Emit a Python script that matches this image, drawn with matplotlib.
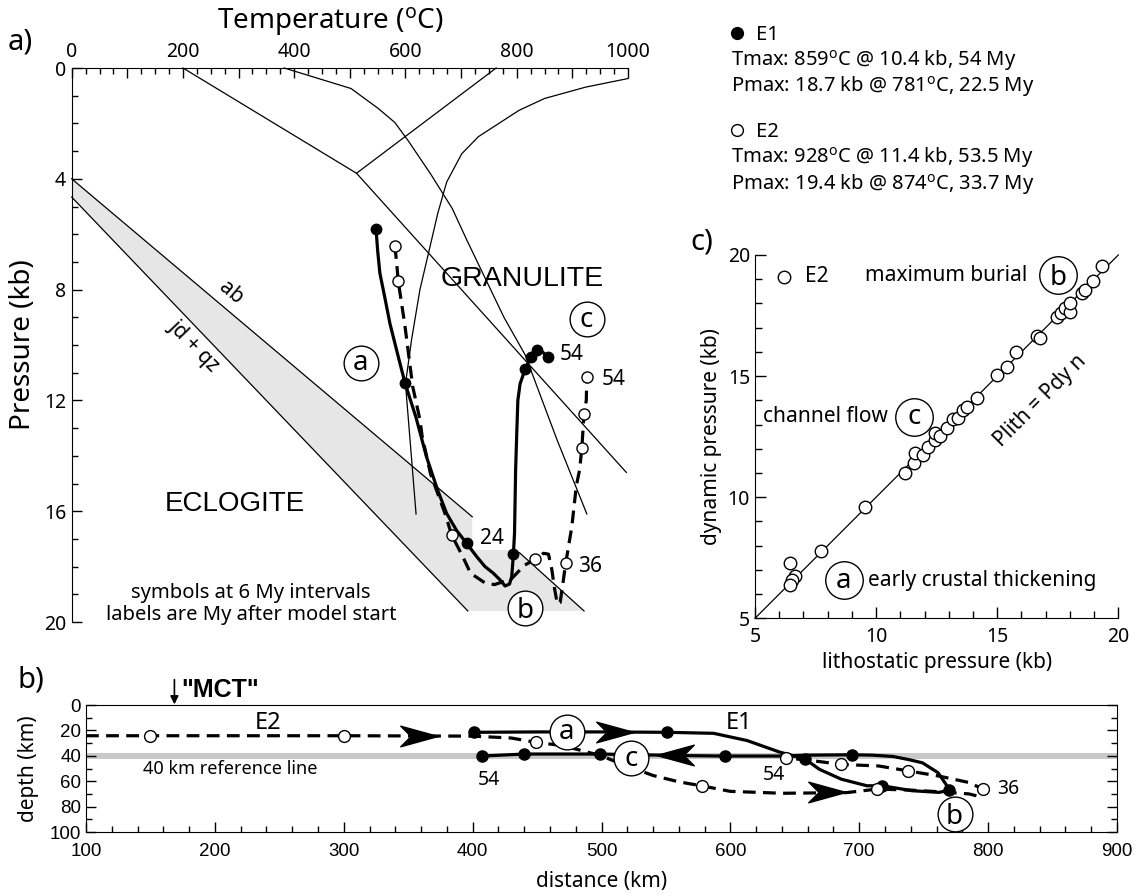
import matplotlib
matplotlib.use('Agg')
import matplotlib.pyplot as plt
from matplotlib.path import Path
from matplotlib.markers import MarkerStyle
from matplotlib.lines import Line2D
from matplotlib.ticker import MultipleLocator, FuncFormatter

plt.rcParams['font.family'] = ['Noto Sans', 'DejaVu Sans']
plt.rcParams['mathtext.fontset'] = 'custom'
plt.rcParams['mathtext.rm'] = 'Noto Sans'
plt.rcParams['mathtext.it'] = 'Noto Sans:italic'
plt.rcParams['mathtext.bf'] = 'Noto Sans:bold'

# ---------------- panel a data (P-T) ----------------
ab_T = [0, 720]
ab_P = [4.0, 16.2]
ab2_T = [805, 921]
ab2_P = [17.5, 19.6]
jdqz_T = [0, 712]
jdqz_P = [4.66, 19.6]
band_T = [0, 720, 720, 800, 921, 712, 0]
band_P = [4.0, 16.2, 17.4, 17.4, 19.6, 19.6, 4.66]
rxB_T = [200, 512, 997]
rxB_P = [0, 3.8, 14.6]
rxC_T = [763, 512]
rxC_P = [0, 3.8]
rxD_T = [382, 502, 551, 581, 605, 645, 684, 710, 777, 815, 872, 926]
rxD_P = [0, 0.74, 1.46, 1.97, 2.63, 3.82, 5.07, 6.2, 9.0, 10.35, 13.4, 16.1]
rxE_T = [1000, 924, 850, 804, 731, 701, 674, 658, 647, 626, 611, 600, 619]
rxE_P = [0.38, 0.69, 1.1, 1.53, 2.48, 3.1, 4.12, 5.25, 6.2, 8.0, 9.8, 11.4, 16.1]

e1_T = [547, 550, 554, 563, 572, 587, 599, 619, 638, 658, 674, 692, 710, 728, 743,
        758, 770, 779, 787, 791, 794, 796, 798, 800, 802, 806, 815, 826, 836, 846, 857]
e1_P = [5.8, 6.6, 7.41, 8.3, 9.22, 10.42, 11.36, 12.62, 14.05, 15.25, 16.08, 16.7, 17.16,
        17.64, 18.0, 18.24, 18.48, 18.7, 18.63, 18.36, 17.55, 16.8, 14.5, 13.2, 12.0, 11.4,
        10.88, 10.42, 10.18, 10.25, 10.44]
e1_dot_T = [547, 599, 710, 794, 815, 826, 836, 857]
e1_dot_P = [5.8, 11.36, 17.16, 17.55, 10.88, 10.42, 10.18, 10.44]

e2_T = [581, 584, 587, 590, 599, 613, 626, 630, 645, 671, 683, 703, 717, 743, 760, 790,
        814, 833, 848, 857, 863, 868, 873, 878, 883, 888, 899, 907, 913, 917, 919, 921,
        925, 926]
e2_P = [6.43, 7.0, 7.7, 8.1, 9.3, 11.5, 12.7, 13.3, 14.65, 16.08, 16.86, 17.64, 18.24,
        18.59, 18.65, 18.45, 17.95, 17.74, 17.52, 17.55, 18.1, 18.8, 19.35, 19.3, 18.6,
        17.88, 16.56, 15.1, 14.5, 13.73, 13.1, 12.5, 12.0, 11.17]
e2_dot_T = [581, 587, 683, 833, 888, 917, 921, 926]
e2_dot_P = [6.43, 7.7, 16.86, 17.74, 17.88, 13.73, 12.5, 11.17]

# ---------------- panel c data ----------------
e2_lith = [6.44, 6.65, 6.51, 6.44, 7.72, 9.54, 11.19, 11.56, 11.61, 11.92, 12.16, 12.43,
           12.43, 12.64, 12.91, 13.19, 13.39, 13.60, 13.74, 14.15, 14.98, 15.39, 15.77,
           16.63, 16.77, 17.45, 17.62, 17.80, 18.00, 18.00, 18.49, 18.62, 18.97, 19.31]
e2_dyn = [7.30, 6.75, 6.58, 6.38, 7.78, 9.61, 11.01, 11.40, 11.84, 11.74, 12.09, 12.36,
          12.64, 12.53, 12.84, 13.22, 13.26, 13.60, 13.74, 14.08, 15.05, 15.39, 16.01,
          16.66, 16.56, 17.45, 17.59, 17.80, 17.66, 18.00, 18.42, 18.55, 18.93, 19.55]
equal_line = [5, 20]

# ---------------- panel b data ----------------
e1_dist = [401, 450, 500, 551, 587, 613, 638, 658, 669, 686, 706, 718, 741, 762, 770,
           767, 761, 749, 738, 726, 710, 694.5, 660, 640, 596, 560, 499, 470, 440, 407.5]
e1_depth = [21.5, 21.2, 21.2, 21.5, 22.3, 28, 37, 42.5, 50.6, 58.4, 63.6, 63.6, 67.5,
            68.8, 67, 62, 53.2, 45.5, 42.9, 40.5, 39.5, 39.2, 39.5, 40.2, 40.2, 39.8,
            38.6, 38.6, 38.6, 40.2]
e1_dot_dist = [401, 551, 658, 718, 770, 694.5, 596, 499, 440, 407.5]
e1_dot_depth = [21.5, 21.5, 42.5, 63.6, 67, 39.2, 40.2, 38.6, 38.6, 40.2]

e2_dist = [100, 150, 300, 400, 430, 449, 470, 485, 500, 507, 520, 540, 560, 578, 600,
           640, 690, 714, 740, 765, 785, 793, 796, 785, 762, 738, 715, 686, 665, 643]
e2_depth = [24.2, 24.2, 24.2, 24.5, 26, 29.4, 32, 36, 40, 43, 48, 55.5, 60.5, 63.7, 68,
            69.5, 69, 66.2, 67, 68.5, 70, 72, 66.2, 61, 56, 51.9, 48, 46.8, 44, 41.6]
e2_dot_dist = [150, 300, 449, 578, 714, 796, 738, 686, 643]
e2_dot_depth = [24.2, 24.2, 29.4, 63.7, 66.2, 66.2, 51.9, 46.8, 41.6]
ref_band = [37.5, 42.5]

# ---------------- figure ----------------
W, H = 1146, 896
fig = plt.figure(figsize=(W / 100, H / 100), dpi=100)
axA = fig.add_axes([71.7 / W, 1 - 622 / H, (628 - 71.7) / W, (622 - 68) / H])
axC = fig.add_axes([755 / W, 1 - 618.3 / H, 363.3 / W, 363.3 / H])
axB = fig.add_axes([86 / W, 1 - 832 / H, (1117 - 86) / W, (832 - 705) / H])

thin = 0.9
thick = 2.3
dash = (0, (4.0, 2.3))
ARIAL = ['Liberation Sans', 'DejaVu Sans']


def circled(ax, x, y, s, fs=20, ms=25, k=0.27):
    ax.plot([x], [y], 'o', ms=ms, mfc='white', mec='black', mew=1.0, zorder=8,
            clip_on=False)
    ax.annotate(s, (x, y), xytext=(0, -k * fs), textcoords='offset points',
                ha='center', va='baseline', fontsize=fs, zorder=9,
                annotation_clip=False)


# ---- panel a ----
axA.fill(band_T, band_P, color='#e6e6e6', lw=0, zorder=0)
for tt, pp in [(ab_T, ab_P), (ab2_T, ab2_P), (jdqz_T, jdqz_P), (rxB_T, rxB_P),
               (rxC_T, rxC_P), (rxD_T, rxD_P), (rxE_T, rxE_P)]:
    axA.plot(tt, pp, color='black', lw=thin, zorder=2, clip_on=False)
axA.plot(e2_T, e2_P, color='black', lw=thick, ls=dash, zorder=3)
axA.plot(e1_T, e1_P, color='black', lw=thick, zorder=4, solid_joinstyle='round')
axA.plot(e1_dot_T, e1_dot_P, 'o', color='black', ms=7.5, zorder=5)
axA.plot(e2_dot_T, e2_dot_P, 'o', mfc='white', mec='black', mew=1.0, ms=8, zorder=5)

axA.set_xlim(0, 1000)
axA.set_ylim(20, 0)
axA.spines['right'].set_visible(False)
axA.spines['bottom'].set_visible(False)
axA.xaxis.set_major_locator(MultipleLocator(100))
axA.xaxis.set_minor_locator(MultipleLocator(25))
axA.xaxis.set_major_formatter(FuncFormatter(lambda v, p: '%d' % v if int(round(v)) % 200 == 0 else ''))
axA.yaxis.set_major_locator(MultipleLocator(4))
axA.yaxis.set_minor_locator(MultipleLocator(1))
axA.tick_params(which='both', direction='in', top=True, bottom=False, left=True,
                right=False, labeltop=True, labelbottom=False, labelsize=14, width=1)
axA.tick_params(which='major', length=7, pad=4)
axA.tick_params(which='minor', length=4.5)
axA.set_ylabel('Pressure (kb)', fontsize=20, labelpad=5)
fig.text(330 / W, 1 - 22 / H, 'Temperature ($\\mathregular{^{o}}$C)', ha='center',
         va='center', fontsize=20)
fig.text(8 / W, 1 - 42 / H, 'a)', fontsize=21, va='center')

axA.text(810, 7.6, 'GRANULITE', family=ARIAL, fontsize=20.5, ha='center', va='center')
axA.text(294, 15.74, 'ECLOGITE', family=ARIAL, fontsize=20, ha='center', va='center')
axA.text(286, 8.12, 'ab', fontsize=15, rotation=-40, ha='center', va='center')
axA.text(220, 10.0, 'jd + qz', fontsize=15, rotation=-46, ha='center', va='center')
axA.text(322, 18.95, 'symbols at 6 My intervals', fontsize=14.5, ha='center',
         va='center')
axA.text(322, 19.73, 'labels are My after model start', fontsize=14.5, ha='center',
         va='center')
axA.text(898, 10.36, '54', fontsize=15, ha='center', va='center')
axA.text(974, 11.26, '54', fontsize=15, ha='center', va='center')
axA.text(755, 16.98, '24', fontsize=15, ha='center', va='center')
axA.text(932, 18.0, '36', fontsize=15, ha='center', va='center')
circled(axA, 519.5, 10.64, 'a')
circled(axA, 925.6, 9.07, 'c')
circled(axA, 815, 19.5, 'b', k=0.36)

# ---- legend text (top right) ----
leg_y = [33, 60, 86, 130, 157, 184]
fig.add_artist(Line2D([736.6 / W], [1 - leg_y[0] / H], marker='o', color='black',
                      ms=8.5, transform=fig.transFigure, ls=''))
fig.add_artist(Line2D([736.6 / W], [1 - leg_y[3] / H], marker='o', mfc='white',
                      mec='black', mew=1.0, ms=8.5, transform=fig.transFigure, ls=''))
leg_fs = 14.5
fig.text(756 / W, 1 - (leg_y[0] + 2) / H, 'E1', fontsize=leg_fs, va='center')
fig.text(731 / W, 1 - leg_y[1] / H, 'Tmax: 859$\\mathregular{^{o}}$C @ 10.4 kb, 54 My',
         fontsize=leg_fs, va='center')
fig.text(731 / W, 1 - leg_y[2] / H, 'Pmax: 18.7 kb @ 781$\\mathregular{^{o}}$C, 22.5 My',
         fontsize=leg_fs, va='center')
fig.text(756 / W, 1 - (leg_y[3] + 2) / H, 'E2', fontsize=leg_fs, va='center')
fig.text(731 / W, 1 - leg_y[4] / H, 'Tmax: 928$\\mathregular{^{o}}$C @ 11.4 kb, 53.5 My',
         fontsize=leg_fs, va='center')
fig.text(731 / W, 1 - leg_y[5] / H, 'Pmax: 19.4 kb @ 874$\\mathregular{^{o}}$C, 33.7 My',
         fontsize=leg_fs, va='center')

# ---- panel c ----
axC.plot(equal_line, equal_line, color='black', lw=thin, zorder=2, clip_on=False)
axC.plot(e2_lith, e2_dyn, 'o', mfc='white', mec='black', mew=1.0, ms=9, zorder=3,
         clip_on=False)
axC.set_xlim(5, 20)
axC.set_ylim(5, 20)
axC.spines['right'].set_visible(False)
axC.spines['top'].set_visible(False)
axC.xaxis.set_major_locator(MultipleLocator(5))
axC.xaxis.set_minor_locator(MultipleLocator(1))
axC.yaxis.set_major_locator(MultipleLocator(5))
axC.yaxis.set_minor_locator(MultipleLocator(1))
axC.tick_params(which='both', direction='in', labelsize=14, width=1)
axC.tick_params(which='major', length=8)
axC.tick_params(which='minor', length=5)
axC.tick_params(axis='x', pad=6)
axC.set_xlabel('lithostatic pressure (kb)', fontsize=15, labelpad=4)
axC.set_ylabel('dynamic pressure (kb)', fontsize=15, labelpad=4)
axC.plot([6.2], [19.1], 'o', mfc='white', mec='black', mew=1.0, ms=9)
axC.text(7.05, 19.1, 'E2', fontsize=15, va='center')
axC.text(12.9, 19.17, 'maximum burial', fontsize=15, ha='center', va='center')
axC.text(7.9, 13.33, 'channel flow', fontsize=15, ha='center', va='center')
axC.text(14.4, 6.58, 'early crustal thickening', fontsize=15, ha='center', va='center')
axC.text(16.8, 14.0, 'Plith = Pdy n', fontsize=15, rotation=45, ha='center',
         va='center')
circled(axC, 17.52, 19.17, 'b', ms=27, k=0.36)
circled(axC, 11.56, 13.33, 'c', ms=27)
circled(axC, 8.67, 6.58, 'a', ms=27)
fig.text(690 / W, 1 - 242 / H, 'c)', fontsize=21, va='center')

# ---- panel b ----
axB.axhspan(ref_band[0], ref_band[1], color='#c8c8c8', lw=0, zorder=0)
axB.plot(e2_dist, e2_depth, color='black', lw=thick, ls=dash, zorder=3)
axB.plot(e1_dist, e1_depth, color='black', lw=thick, zorder=4, solid_joinstyle='round')
axB.plot(e1_dot_dist, e1_dot_depth, 'o', color='black', ms=8, zorder=5)
axB.plot(e2_dot_dist, e2_dot_depth, 'o', mfc='white', mec='black', mew=1.0, ms=8.5,
         zorder=5)


def arrow_marker(direction):
    v = [(1, 0), (-1, 0.55), (-0.45, 0), (-1, -0.55), (1, 0)]
    if direction < 0:
        v = [(-x, y) for x, y in v]
    return MarkerStyle(Path(v, [Path.MOVETO, Path.LINETO, Path.LINETO, Path.LINETO,
                                Path.CLOSEPOLY]))


arrow_d = [358.6, 510.5, 557, 675]
arrow_z = [24.2, 21.3, 39.5, 68.8]
arrow_dir = [1, 1, -1, 1]
for d, z, s in zip(arrow_d, arrow_z, arrow_dir):
    axB.plot([d], [z], ls='', marker=arrow_marker(s), ms=27, color='black', zorder=6)

axB.set_xlim(100, 900)
axB.set_ylim(100, 0)
axB.xaxis.set_major_locator(MultipleLocator(100))
axB.xaxis.set_minor_locator(MultipleLocator(20))
axB.yaxis.set_major_locator(MultipleLocator(20))
axB.yaxis.set_minor_locator(MultipleLocator(10))
axB.tick_params(which='both', direction='in', top=False, right=True, width=1,
                labelsize=13.5)
axB.tick_params(which='major', length=7)
axB.tick_params(which='minor', length=4)
axB.tick_params(axis='x', pad=8)
for lab in axB.get_xticklabels() + axB.get_yticklabels():
    lab.set_family(ARIAL)
axB.set_xlabel('distance (km)', fontsize=15, labelpad=8)
axB.set_ylabel('depth (km)', fontsize=15, labelpad=8)

axB.text(241, 14.3, 'E2', fontsize=17, ha='center', va='center')
axB.text(607, 14.3, 'E1', fontsize=17, ha='center', va='center')
axB.text(413, 59, '54', fontsize=14, ha='center', va='center')
axB.text(634, 55, '54', fontsize=14, ha='center', va='center')
axB.text(807, 66.2, '36', fontsize=14, ha='left', va='center')
axB.text(144, 50.6, '40 km reference line', fontsize=13, ha='left', va='center')
circled(axB, 473, 21, 'a')
circled(axB, 523, 42, 'c')
circled(axB, 774, 85.7, 'b', k=0.36)
axB.annotate('', xy=(168.6, -0.5), xytext=(168.6, -20), annotation_clip=False,
             arrowprops=dict(arrowstyle='-|>', color='black', lw=1.2, mutation_scale=12,
                             shrinkA=0, shrinkB=0))
axB.text(174, -11.5, '"MCT"', family=ARIAL, fontweight='bold', fontsize=18,
         ha='left', va='center', clip_on=False)
axB.text(57, -19.5, 'b)', fontsize=21, ha='center', va='center', clip_on=False)

fig.savefig('out.png', dpi=100)
